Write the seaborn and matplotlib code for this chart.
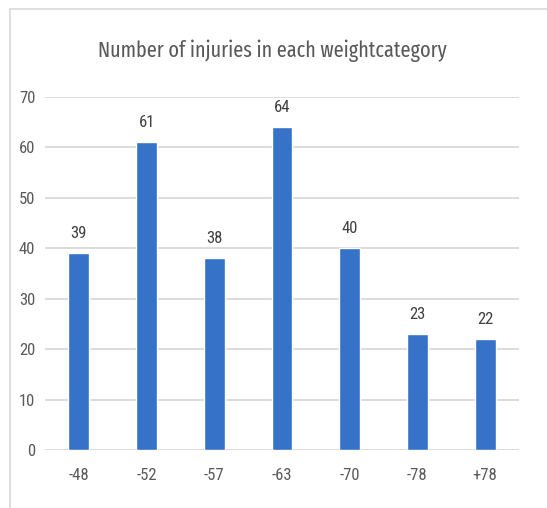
import matplotlib
matplotlib.use("Agg")
import matplotlib.pyplot as plt
from matplotlib.lines import Line2D
import pandas as pd
import seaborn as sns

## chart data
categories = ["-48", "-52", "-57", "-63", "-70", "-78", "+78"]
injuries = [39, 61, 38, 64, 40, 23, 22]
yticks = [0, 10, 20, 30, 40, 50, 60, 70]
title = "Number of injuries in each weightcategory"

df = pd.DataFrame({"category": categories, "injuries": injuries})

sns.set_style("white")
plt.rcParams['font.family'] = ['Roboto Condensed', 'DejaVu Sans']

W, H = 547, 508
fig = plt.figure(figsize=(W / 100, H / 100), dpi=100)
ax = fig.add_axes([45 / W, 58 / H, (519 - 45) / W, (450 - 97) / H])

sns.barplot(data=df, x="category", y="injuries", color="#3572c8",
            width=0.31, saturation=1, ax=ax, zorder=3)

## data labels
for c in ax.containers:
    ax.bar_label(c, padding=9, fontsize=12, color="#404040")

ax.set_xlim(-0.5, 6.5)
ax.set_ylim(0, 70)
ax.set_yticks(yticks)
ax.yaxis.grid(True, color="#d9d9d9", linewidth=1.3, zorder=0)
ax.set_xlabel("")
ax.set_ylabel("")
for s in ax.spines.values():
    s.set_visible(False)
ax.tick_params(axis="both", length=0, labelsize=12, labelcolor="#595959")
ax.tick_params(axis="x", pad=13)
ax.tick_params(axis="y", pad=7)

t = fig.text(272 / W, 1 - 57 / H, title, ha="center", va="baseline",
             fontsize=18, color="#595959",
             family=['Fira Sans Extra Condensed', 'Roboto Condensed', 'DejaVu Sans'])
## fit the title to its width in the reference (about 350 px)
fig.canvas.draw()
w = t.get_window_extent().width
t.set_fontsize(18 * 350 / w)

## chart area border
fig.add_artist(Line2D([10 / W, 10 / W], [0, 1 - 9 / H], transform=fig.transFigure,
                      color="#d9d9d9", linewidth=1.2))
fig.add_artist(Line2D([10 / W, 1], [1 - 9 / H, 1 - 9 / H], transform=fig.transFigure,
                      color="#d9d9d9", linewidth=1.2))

fig.savefig("out.png", dpi=100, facecolor="white")
